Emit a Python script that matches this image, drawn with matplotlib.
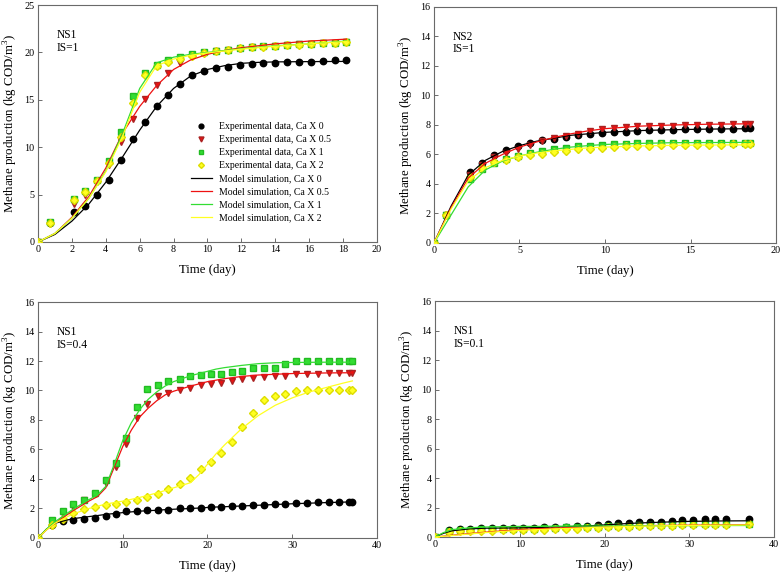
import numpy as np
import matplotlib
matplotlib.use("Agg")
import matplotlib.pyplot as plt

plt.rcParams['font.family'] = ['Liberation Serif', 'DejaVu Serif']
plt.rcParams['mathtext.fontset'] = 'custom'
plt.rcParams['mathtext.rm'] = 'Liberation Serif'

# ---------------- data: panel a (NS1, IS=1) ----------------
t_a = [0, 0.7, 2.1, 2.8, 3.5, 4.2, 4.9, 5.6, 6.3, 7.0, 7.7, 8.4, 9.1, 9.8, 10.5,
       11.2, 11.9, 12.6, 13.3, 14.0, 14.7, 15.4, 16.1, 16.8, 17.5, 18.2]
exp_a_0 = [0, 2.0, 3.2, 3.8, 5.0, 6.5, 8.7, 10.9, 12.7, 14.3, 15.5, 16.7, 17.6, 18.0, 18.4,
           18.5, 18.7, 18.8, 18.9, 18.9, 19.0, 19.0, 19.0, 19.1, 19.2, 19.2]
exp_a_05 = [0, 2.0, 4.0, 5.0, 6.3, 8.1, 10.6, 13.0, 15.1, 16.6, 17.8, 18.9, 19.6, 19.9, 20.1,
            20.3, 20.4, 20.6, 20.6, 20.7, 20.8, 20.9, 20.9, 21.0, 21.0, 21.1]
exp_a_1 = [0, 2.1, 4.5, 5.4, 6.5, 8.5, 11.6, 15.4, 17.8, 18.7, 19.2, 19.5, 19.8, 20.0, 20.2,
           20.3, 20.5, 20.6, 20.7, 20.7, 20.8, 20.9, 20.9, 21.0, 21.0, 21.1]
exp_a_2 = [0, 2.0, 4.4, 5.3, 6.4, 8.3, 11.1, 14.7, 17.6, 18.6, 19.0, 19.3, 19.6, 19.9, 20.1,
           20.3, 20.5, 20.6, 20.6, 20.7, 20.8, 20.8, 20.9, 21.0, 21.0, 21.1]
tm_a = [0, 1, 2, 3, 4, 5, 6, 7, 8, 9, 10, 11, 12, 13, 14, 16, 18.2]
mod_a_0 = [0, 0.8, 2.2, 4.0, 6.3, 9.0, 11.8, 14.3, 16.2, 17.5, 18.2, 18.6, 18.85, 18.95, 19.0, 19.03, 19.05]
mod_a_05 = [0, 0.9, 2.6, 4.8, 7.8, 11.5, 14.3, 16.5, 18.2, 19.2, 19.8, 20.2, 20.5, 20.7, 20.9, 21.2, 21.4]
mod_a_1 = [0, 0.9, 2.5, 4.6, 7.5, 11.5, 16.2, 18.9, 19.5, 19.8, 20.0, 20.2, 20.4, 20.55, 20.7, 20.9, 21.2]
mod_a_2 = [0, 0.9, 2.5, 4.6, 7.4, 11.2, 15.8, 18.6, 19.3, 19.7, 19.95, 20.15, 20.35, 20.5, 20.65, 20.9, 21.15]

# ---------------- data: panel b (NS2, IS=1) ----------------
t_b = [0, 0.7, 2.1, 2.8, 3.5, 4.2, 4.9, 5.6, 6.3, 7.0, 7.7, 8.4, 9.1, 9.8, 10.5,
       11.2, 11.9, 12.6, 13.3, 14.0, 14.7, 15.4, 16.1, 16.8, 17.5, 18.2, 18.5]
exp_b_0 = [0, 1.9, 4.8, 5.4, 5.95, 6.3, 6.6, 6.8, 6.95, 7.05, 7.2, 7.3, 7.4, 7.45, 7.5,
           7.55, 7.6, 7.65, 7.65, 7.65, 7.7, 7.7, 7.7, 7.72, 7.75, 7.78, 7.78]
exp_b_05 = [0, 1.9, 4.6, 5.3, 5.8, 6.1, 6.4, 6.65, 6.9, 7.1, 7.25, 7.4, 7.6, 7.7, 7.8,
            7.85, 7.9, 7.95, 7.95, 7.95, 8.0, 8.0, 8.0, 8.0, 8.05, 8.05, 8.05]
exp_b_1 = [0, 1.9, 4.35, 5.0, 5.45, 5.7, 5.9, 6.1, 6.25, 6.35, 6.45, 6.55, 6.6, 6.65, 6.7,
           6.72, 6.75, 6.78, 6.8, 6.8, 6.8, 6.8, 6.8, 6.8, 6.8, 6.8, 6.8]
exp_b_2 = [0, 1.9, 4.5, 5.1, 5.5, 5.65, 5.85, 5.95, 6.05, 6.15, 6.25, 6.35, 6.4, 6.45, 6.5,
           6.55, 6.6, 6.6, 6.62, 6.62, 6.65, 6.65, 6.65, 6.65, 6.68, 6.7, 6.7]
tm_b = [0, 1, 2, 3, 4, 5, 6, 7, 8, 9, 10, 12, 14, 16, 18.5]
mod_b_0 = [0, 2.5, 4.6, 5.6, 6.2, 6.6, 6.9, 7.1, 7.3, 7.4, 7.5, 7.62, 7.68, 7.72, 7.75]
mod_b_05 = [0, 2.4, 4.4, 5.4, 6.0, 6.5, 6.85, 7.15, 7.4, 7.6, 7.75, 7.92, 8.0, 8.05, 8.08]
mod_b_1 = [0, 1.9, 3.8, 4.95, 5.55, 5.9, 6.15, 6.35, 6.5, 6.6, 6.68, 6.75, 6.8, 6.81, 6.82]
mod_b_2 = [0, 2.3, 4.2, 5.1, 5.6, 5.9, 6.1, 6.25, 6.35, 6.45, 6.5, 6.58, 6.62, 6.64, 6.65]

# ---------------- data: panel c (NS1, IS=0.4) ----------------
t_c = [0, 1.6, 2.9, 4.1, 5.4, 6.7, 8.0, 9.2, 10.4, 11.7, 12.9, 14.2, 15.4, 16.7, 17.9, 19.2,
       20.4, 21.6, 22.9, 24.1, 25.4, 26.7, 28.0, 29.2, 30.5, 31.8, 33.0, 34.3, 35.5, 36.7, 37.1]
exp_c_0 = [0, 0.85, 1.15, 1.25, 1.3, 1.35, 1.5, 1.6, 1.8, 1.85, 1.87, 1.88, 1.9, 2.0, 2.02, 2.05,
           2.07, 2.08, 2.15, 2.2, 2.25, 2.27, 2.28, 2.3, 2.38, 2.4, 2.42, 2.43, 2.43, 2.43, 2.43]
exp_c_05 = [0, 1.0, 1.6, 2.1, 2.55, 2.95, 3.7, 4.8, 6.4, 8.15, 9.1, 9.6, 9.8, 10.0, 10.2, 10.35,
            10.45, 10.5, 10.65, 10.75, 10.85, 10.9, 10.95, 11.0, 11.1, 11.15, 11.15, 11.2, 11.2, 11.2, 11.2]
exp_c_1 = [0, 1.24, 1.85, 2.3, 2.6, 3.05, 3.9, 5.07, 6.8, 8.9, 10.07, 10.4, 10.63, 10.8, 10.95, 11.04,
           11.1, 11.15, 11.28, 11.35, 11.5, 11.5, 11.5, 11.8, 11.98, 12.0, 12.0, 12.0, 12.0, 12.0, 12.0]
exp_c_2 = [0, 0.9, 1.3, 1.7, 1.95, 2.1, 2.25, 2.3, 2.45, 2.6, 2.8, 3.0, 3.3, 3.65, 4.1, 4.65,
           5.15, 5.75, 6.5, 7.5, 8.5, 9.35, 9.6, 9.75, 9.95, 10.0, 10.0, 10.0, 10.0, 10.0, 10.0]
tm_c = [0, 1, 2, 4, 6, 7, 8, 9, 10, 11, 12, 13, 14, 15, 16, 18, 19, 20, 21, 22, 24, 26, 28, 30,
        32, 34, 36, 37.1]
mod_c_0 = [0, 0.6, 1.0, 1.3, 1.45, 1.52, 1.6, 1.66, 1.72, 1.77, 1.82, 1.85, 1.88, 1.92, 1.95, 2.0,
           2.03, 2.07, 2.1, 2.12, 2.17, 2.22, 2.27, 2.32, 2.36, 2.4, 2.43, 2.45]
mod_c_05 = [0, 0.55, 1.0, 1.8, 2.5, 2.8, 3.4, 4.8, 6.2, 7.3, 8.2, 8.8, 9.3, 9.7, 9.95, 10.3,
            10.45, 10.6, 10.7, 10.8, 10.95, 11.05, 11.1, 11.15, 11.17, 11.19, 11.2, 11.2]
mod_c_1 = [0, 0.6, 1.1, 1.9, 2.6, 2.9, 3.5, 5.0, 6.6, 7.8, 8.7, 9.4, 9.9, 10.3, 10.6, 11.0,
           11.15, 11.3, 11.45, 11.55, 11.7, 11.82, 11.88, 11.9, 11.91, 11.92, 11.92, 11.92]
mod_c_2 = [0, 0.55, 1.0, 1.6, 2.0, 2.15, 2.3, 2.4, 2.5, 2.62, 2.75, 2.9, 3.05, 3.22, 3.4, 3.75,
           4.3, 5.0, 5.7, 6.3, 7.4, 8.3, 9.0, 9.5, 9.9, 10.2, 10.5, 10.65]

# ---------------- data: panel d (NS1, IS=0.1) ----------------
t_d = [0, 1.6, 2.9, 4.1, 5.4, 6.7, 8.0, 9.2, 10.4, 11.7, 12.9, 14.2, 15.4, 16.7, 17.9, 19.2,
       20.4, 21.6, 22.9, 24.1, 25.4, 26.7, 28.0, 29.2, 30.5, 31.8, 33.0, 34.3, 37.1]
exp_d_0 = [0, 0.5, 0.52, 0.57, 0.58, 0.58, 0.58, 0.6, 0.6, 0.62, 0.65, 0.68, 0.7, 0.72, 0.75, 0.8,
           0.88, 0.92, 0.98, 1.0, 1.0, 1.02, 1.1, 1.15, 1.18, 1.2, 1.2, 1.2, 1.2]
exp_d_05 = [0, 0.35, 0.38, 0.42, 0.45, 0.45, 0.47, 0.48, 0.5, 0.5, 0.52, 0.55, 0.58, 0.6, 0.62, 0.65,
            0.68, 0.7, 0.72, 0.75, 0.75, 0.77, 0.8, 0.82, 0.83, 0.85, 0.85, 0.85, 0.88]
exp_d_1 = [0, 0.42, 0.45, 0.5, 0.52, 0.55, 0.55, 0.55, 0.55, 0.55, 0.58, 0.62, 0.65, 0.65, 0.67, 0.7,
           0.72, 0.75, 0.78, 0.8, 0.8, 0.8, 0.82, 0.85, 0.85, 0.88, 0.88, 0.88, 0.9]
exp_d_2 = [0, 0.35, 0.38, 0.4, 0.42, 0.43, 0.45, 0.45, 0.45, 0.47, 0.48, 0.52, 0.55, 0.57, 0.6, 0.62,
           0.65, 0.67, 0.7, 0.72, 0.73, 0.75, 0.78, 0.8, 0.8, 0.82, 0.82, 0.83, 0.85]
tm_d = [0, 1, 2, 4, 6, 8, 10, 12, 14, 16, 18, 20, 22, 24, 26, 28, 30, 34, 37.1]
mod_d_0 = [0, 0.25, 0.42, 0.55, 0.6, 0.61, 0.62, 0.64, 0.68, 0.71, 0.75, 0.82, 0.89, 0.95, 0.99,
           1.03, 1.06, 1.09, 1.1]
mod_d_05 = [0, 0.06, 0.12, 0.23, 0.33, 0.42, 0.5, 0.56, 0.6, 0.64, 0.67, 0.7, 0.73, 0.76, 0.78,
            0.79, 0.8, 0.82, 0.84]
mod_d_1 = [0, 0.3, 0.5, 0.62, 0.68, 0.7, 0.72, 0.72, 0.73, 0.74, 0.74, 0.75, 0.75, 0.76, 0.76,
           0.77, 0.77, 0.78, 0.78]
mod_d_2 = [0, 0.05, 0.1, 0.2, 0.3, 0.38, 0.45, 0.5, 0.55, 0.59, 0.63, 0.67, 0.7, 0.73, 0.75,
           0.77, 0.78, 0.8, 0.82]

labels_exp = ['Experimental data, Ca X 0', 'Experimental data, Ca X 0.5',
              'Experimental data, Ca X 1', 'Experimental data, Ca X 2']
labels_mod = ['Model simulation, Ca X 0', 'Model simulation, Ca X 0.5',
              'Model simulation, Ca X 1', 'Model simulation, Ca X 2']

colors = ['black', '#ee1111', '#33dd33', '#ffff22']
edges = ['black', '#aa2222', '#22bb22', '#dddd00']
markers = ['o', 'v', 's', 'D']
msizes = [4.6, 4.8, 4.3, 4.0]

panels = [
    dict(pos=[0.0487, 0.5806, 0.4346, 0.4107], t=t_a, exp=[exp_a_0, exp_a_05, exp_a_1, exp_a_2],
         tm=tm_a, mod=[mod_a_0, mod_a_05, mod_a_1, mod_a_2], xlim=20, xstep=2, ylim=25, ystep=5,
         text='NS1\nIS=1', legend=True),
    dict(pos=[0.5564, 0.5789, 0.4385, 0.409], t=t_b, exp=[exp_b_0, exp_b_05, exp_b_1, exp_b_2],
         tm=tm_b, mod=[mod_b_0, mod_b_05, mod_b_1, mod_b_2], xlim=20, xstep=5, ylim=16, ystep=2,
         text='NS2\nIS=1', legend=False),
    dict(pos=[0.0487, 0.0676, 0.4346, 0.409], t=t_c, exp=[exp_c_0, exp_c_05, exp_c_1, exp_c_2],
         tm=tm_c, mod=[mod_c_0, mod_c_05, mod_c_1, mod_c_2], xlim=40, xstep=10, ylim=16, ystep=2,
         text='NS1\nIS=0.4', legend=False),
    dict(pos=[0.5577, 0.0693, 0.4346, 0.409], t=t_d, exp=[exp_d_0, exp_d_05, exp_d_1, exp_d_2],
         tm=tm_d, mod=[mod_d_0, mod_d_05, mod_d_1, mod_d_2], xlim=40, xstep=10, ylim=16, ystep=2,
         text='NS1\nIS=0.1', legend=False),
]

fig = plt.figure(figsize=(7.8, 5.77), dpi=100)

for p in panels:
    ax = fig.add_axes(p['pos'])
    for i in range(4):
        ax.plot(p['t'], p['exp'][i], linestyle='none', marker=markers[i], color=colors[i],
                markeredgecolor=edges[i], markersize=msizes[i], label=labels_exp[i], zorder=3)
    for i in range(4):
        ax.plot(p['tm'], p['mod'][i], color=colors[i], lw=0.9, label=labels_mod[i], zorder=4)
    ax.set_xlim(0, p['xlim'])
    ax.set_ylim(0, p['ylim'])
    ax.set_xticks(np.arange(0, p['xlim'] + 0.01, p['xstep']))
    ax.set_yticks(np.arange(0, p['ylim'] + 0.01, p['ystep']))
    ax.tick_params(direction='in', length=3, width=0.6, labelsize=7.3, color='#555555', pad=2.5)
    for s in ax.spines.values():
        s.set_color('#6a6a6a')
        s.set_linewidth(0.8)
    ax.set_xlabel('Time (day)', fontsize=9.2, labelpad=7)
    ax.set_ylabel('Methane production (kg COD/m$^3$)', fontsize=9.3, labelpad=3)
    ax.text(0.055, 0.9, p['text'], transform=ax.transAxes, fontsize=8.3, va='top',
            linespacing=1.1)
    if p['legend']:
        ax.legend(loc='upper left', bbox_to_anchor=(0.43, 0.535), frameon=False, fontsize=7,
                  markerscale=0.75, handlelength=2.2, handletextpad=0.7,
                  labelspacing=0.42, borderpad=0.2)

fig.savefig('out.png', dpi=100)
